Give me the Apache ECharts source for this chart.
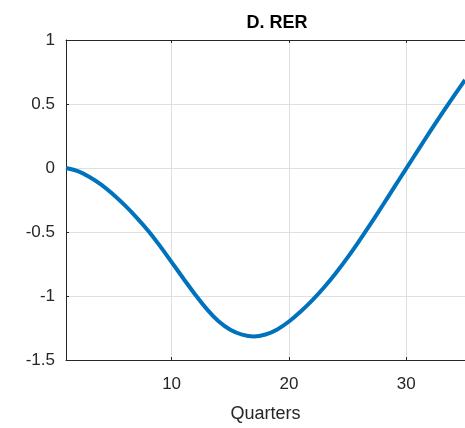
<!DOCTYPE html>
<html>
<head>
<meta charset="utf-8">
<script src="https://cdn.jsdelivr.net/npm/echarts@6/dist/echarts.min.js"></script>
<style>
html,body{margin:0;padding:0;background:#fff;}
#c{width:465px;height:428px;}
</style>
</head>
<body>
<div id="c"></div>
<script>
const quarters = [1,2,3,4,5,6,7,8,9,10,11,12,13,14,15,16,17,18,19,20,21,22,23,24,25,26,27,28,29,30,31,32,33,34,35];
const rer = [0,-0.025,-0.07,-0.13,-0.205,-0.29,-0.385,-0.49,-0.608,-0.735,-0.863,-0.988,-1.103,-1.198,-1.264,-1.302,-1.316,-1.301,-1.261,-1.199,-1.121,-1.032,-0.932,-0.82,-0.698,-0.567,-0.43,-0.289,-0.146,-0.003,0.14,0.282,0.421,0.556,0.688];
const xTicks = [10,20,30];
const yMin = -1.5, yMax = 1, yStep = 0.5;
const titleText = 'D. RER';
const xName = 'Quarters';

const font = 'Liberation Sans, Arial, Helvetica, sans-serif';
const axisCol = '#262626';
const chart = echarts.init(document.getElementById('c'), null, {renderer:'canvas'});
chart.setOption({
  animation:false,
  backgroundColor:'#fff',
  title:{text:titleText,left:272,top:9,textAlign:'center',
    textStyle:{fontFamily:font,fontSize:18,fontWeight:'bold',color:'#000'}},
  grid:{left:66,top:40,bottom:65,right:-2,containLabel:false},
  xAxis:[{
    type:'value',min:1,max:35,
    name:xName,nameLocation:'middle',nameGap:45,
    nameTextStyle:{fontFamily:font,fontSize:18,color:axisCol},
    axisLine:{show:true,onZero:false,lineStyle:{color:axisCol,width:1}},
    axisTick:{show:true,inside:true,length:3,customValues:xTicks,lineStyle:{color:axisCol}},
    axisLabel:{customValues:xTicks,fontFamily:font,fontSize:17,color:axisCol,margin:16},
    splitLine:{show:true,lineStyle:{color:'#dfdfdf',width:1}}
  },{
    type:'value',min:1,max:35,position:'top',
    axisLine:{show:true,onZero:false,lineStyle:{color:axisCol,width:1}},
    axisTick:{show:true,inside:true,length:3,customValues:xTicks,lineStyle:{color:axisCol}},
    axisLabel:{show:false},splitLine:{show:false}
  }],
  yAxis:{
    type:'value',min:yMin,max:yMax,interval:yStep,
    axisLine:{show:true,onZero:false,lineStyle:{color:axisCol,width:1}},
    axisTick:{show:true,inside:true,length:3,lineStyle:{color:axisCol}},
    axisLabel:{fontFamily:font,fontSize:17,color:axisCol,margin:11},
    splitLine:{show:true,lineStyle:{color:'#dfdfdf',width:1}}
  },
  series:[{
    type:'line',xAxisIndex:0,
    data:quarters.map((q,i)=>[q,rer[i]]),
    showSymbol:false,smooth:0.4,
    lineStyle:{color:'#0072BD',width:4},
    clip:true
  }]
});
</script>
</body>
</html>
